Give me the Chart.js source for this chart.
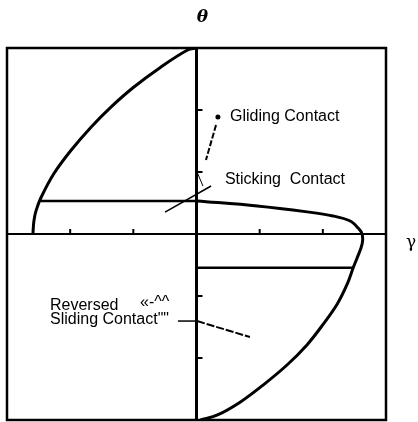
<!DOCTYPE html>
<html>
<head>
<meta charset="utf-8">
<script src="https://cdn.jsdelivr.net/npm/chart.js@4.4.1/dist/chart.umd.min.js"></script>
<style>
  html, body { margin: 0; padding: 0; background: #fff; }
  #wrap { width: 418px; height: 422px; }
</style>
</head>
<body>
<div id="wrap"><canvas id="loopChart"></canvas></div>
<script>
// gamma / theta pairs, both normalised to [-1, 1]
const leftBranch = [
  {x: 0.0, y: 1.0}, {x: -0.047, y: 0.989}, {x: -0.189, y: 0.897}, {x: -0.332, y: 0.789},
  {x: -0.453, y: 0.681}, {x: -0.558, y: 0.573}, {x: -0.663, y: 0.449}, {x: -0.753, y: 0.324},
  {x: -0.821, y: 0.195}, {x: -0.847, y: 0.124}, {x: -0.858, y: 0.070}, {x: -0.863, y: 0.005}
];
const upperStep = [{x: -0.821, y: 0.178}, {x: 0.0, y: 0.178}];
const rightBranch = [
  {x: 0.005, y: 0.178}, {x: 0.321, y: 0.151}, {x: 0.584, y: 0.119}, {x: 0.721, y: 0.097},
  {x: 0.811, y: 0.070}, {x: 0.853, y: 0.032}, {x: 0.874, y: 0.0}, {x: 0.874, y: -0.054},
  {x: 0.847, y: -0.130}, {x: 0.826, y: -0.184}, {x: 0.795, y: -0.270}, {x: 0.742, y: -0.378},
  {x: 0.668, y: -0.486}, {x: 0.584, y: -0.595}, {x: 0.479, y: -0.703}, {x: 0.353, y: -0.811},
  {x: 0.232, y: -0.903}, {x: 0.111, y: -0.973}, {x: 0.021, y: -1.0}
];
const lowerStep = [{x: 0.0, y: -0.182}, {x: 0.826, y: -0.182}];
const tickValues = [-2/3, -1/3, 1/3, 2/3];

// callouts: text anchored at its left edge / vertical middle
const notes = [
  {text: 'Gliding Contact', x: 0.177, y: 0.629},
  {text: 'Sticking  Contact', x: 0.150, y: 0.290},
  {text: 'Reversed', x: -0.773, y: -0.385},
  {text: '«-^^', x: -0.298, y: -0.368},
  {text: 'Sliding Contact""', x: -0.773, y: -0.460}
];
const leaders = [
  {from: {x: 0.103, y: 0.586}, to: {x: 0.050, y: 0.398}, w: 2, dash: [6, 2]},
  {from: {x: 0.077, y: 0.258}, to: {x: -0.166, y: 0.118}, w: 1.5, dash: []},
  {from: {x: 0.003, y: 0.333}, to: {x: 0.034, y: 0.258}, w: 1, dash: []},
  {from: {x: -0.098, y: -0.468}, to: {x: 0.003, y: -0.468}, w: 1.5, dash: []},
  {from: {x: 0.003, y: -0.468}, to: {x: 0.282, y: -0.554}, w: 2, dash: [8, 2]}
];
const glidingDot = {x: 0.113, y: 0.629};

const frameAndAxes = {
  id: 'frameAndAxes',
  beforeDatasetsDraw(chart) {
    const {ctx, chartArea: a, scales: {x, y}} = chart;
    const x0 = x.getPixelForValue(0), y0 = y.getPixelForValue(0);
    ctx.save();
    ctx.strokeStyle = '#000';
    ctx.lineWidth = 2.5;
    ctx.strokeRect(a.left, a.top, a.right - a.left, a.bottom - a.top);
    // zero axes
    ctx.lineWidth = 2;
    ctx.beginPath();
    ctx.moveTo(a.left, y0); ctx.lineTo(a.right, y0);
    ctx.stroke();
    ctx.lineWidth = 3;
    ctx.beginPath();
    ctx.moveTo(x0, a.top); ctx.lineTo(x0, a.bottom);
    ctx.stroke();
    ctx.lineWidth = 2;
    tickValues.forEach(v => {
      const px = x.getPixelForValue(v), py = y.getPixelForValue(v);
      ctx.beginPath();
      ctx.moveTo(px, y0); ctx.lineTo(px, y0 - 5);
      ctx.moveTo(x0, py); ctx.lineTo(x0 + 6, py);
      ctx.stroke();
    });
    // axis symbols
    ctx.fillStyle = '#000';
    ctx.font = 'italic bold 17px "DejaVu Serif"';
    ctx.textAlign = 'center';
    ctx.textBaseline = 'middle';
    ctx.fillText('θ', x0 + 6, a.top - 30);
    ctx.font = '17px "DejaVu Serif"';
    ctx.fillText('γ', a.right + 25, y0 + 9);
    ctx.restore();
  },
  afterDatasetsDraw(chart) {
    const {ctx, scales: {x, y}} = chart;
    ctx.save();
    ctx.strokeStyle = '#000';
    ctx.fillStyle = '#000';
    leaders.forEach(l => {
      ctx.lineWidth = l.w;
      ctx.setLineDash(l.dash);
      ctx.beginPath();
      ctx.moveTo(x.getPixelForValue(l.from.x), y.getPixelForValue(l.from.y));
      ctx.lineTo(x.getPixelForValue(l.to.x), y.getPixelForValue(l.to.y));
      ctx.stroke();
    });
    ctx.setLineDash([]);
    ctx.beginPath();
    ctx.arc(x.getPixelForValue(glidingDot.x), y.getPixelForValue(glidingDot.y), 2.5, 0, Math.PI * 2);
    ctx.fill();
    ctx.font = '16px "Liberation Sans", Arial, sans-serif';
    ctx.textAlign = 'left';
    ctx.textBaseline = 'middle';
    notes.forEach(n => {
      ctx.fillText(n.text, x.getPixelForValue(n.x), y.getPixelForValue(n.y));
    });
    ctx.restore();
  }
};

const line = (data, width) => ({
  data,
  showLine: true,
  borderColor: '#000',
  borderWidth: width,
  pointRadius: 0,
  tension: 0.35,
  fill: false
});

new Chart(document.getElementById('loopChart'), {
  type: 'scatter',
  data: {
    datasets: [
      line(leftBranch, 3),
      line(upperStep, 2.5),
      line(rightBranch, 3),
      line(lowerStep, 2.5)
    ]
  },
  options: {
    responsive: true,
    maintainAspectRatio: false,
    animation: false,
    layout: { padding: {left: 7, right: 32, top: 48, bottom: 2} },
    plugins: { legend: {display: false}, tooltip: {enabled: false} },
    scales: {
      x: { type: 'linear', min: -1, max: 1, display: false },
      y: { type: 'linear', min: -1, max: 1, display: false }
    }
  },
  plugins: [frameAndAxes]
});
</script>
</body>
</html>
